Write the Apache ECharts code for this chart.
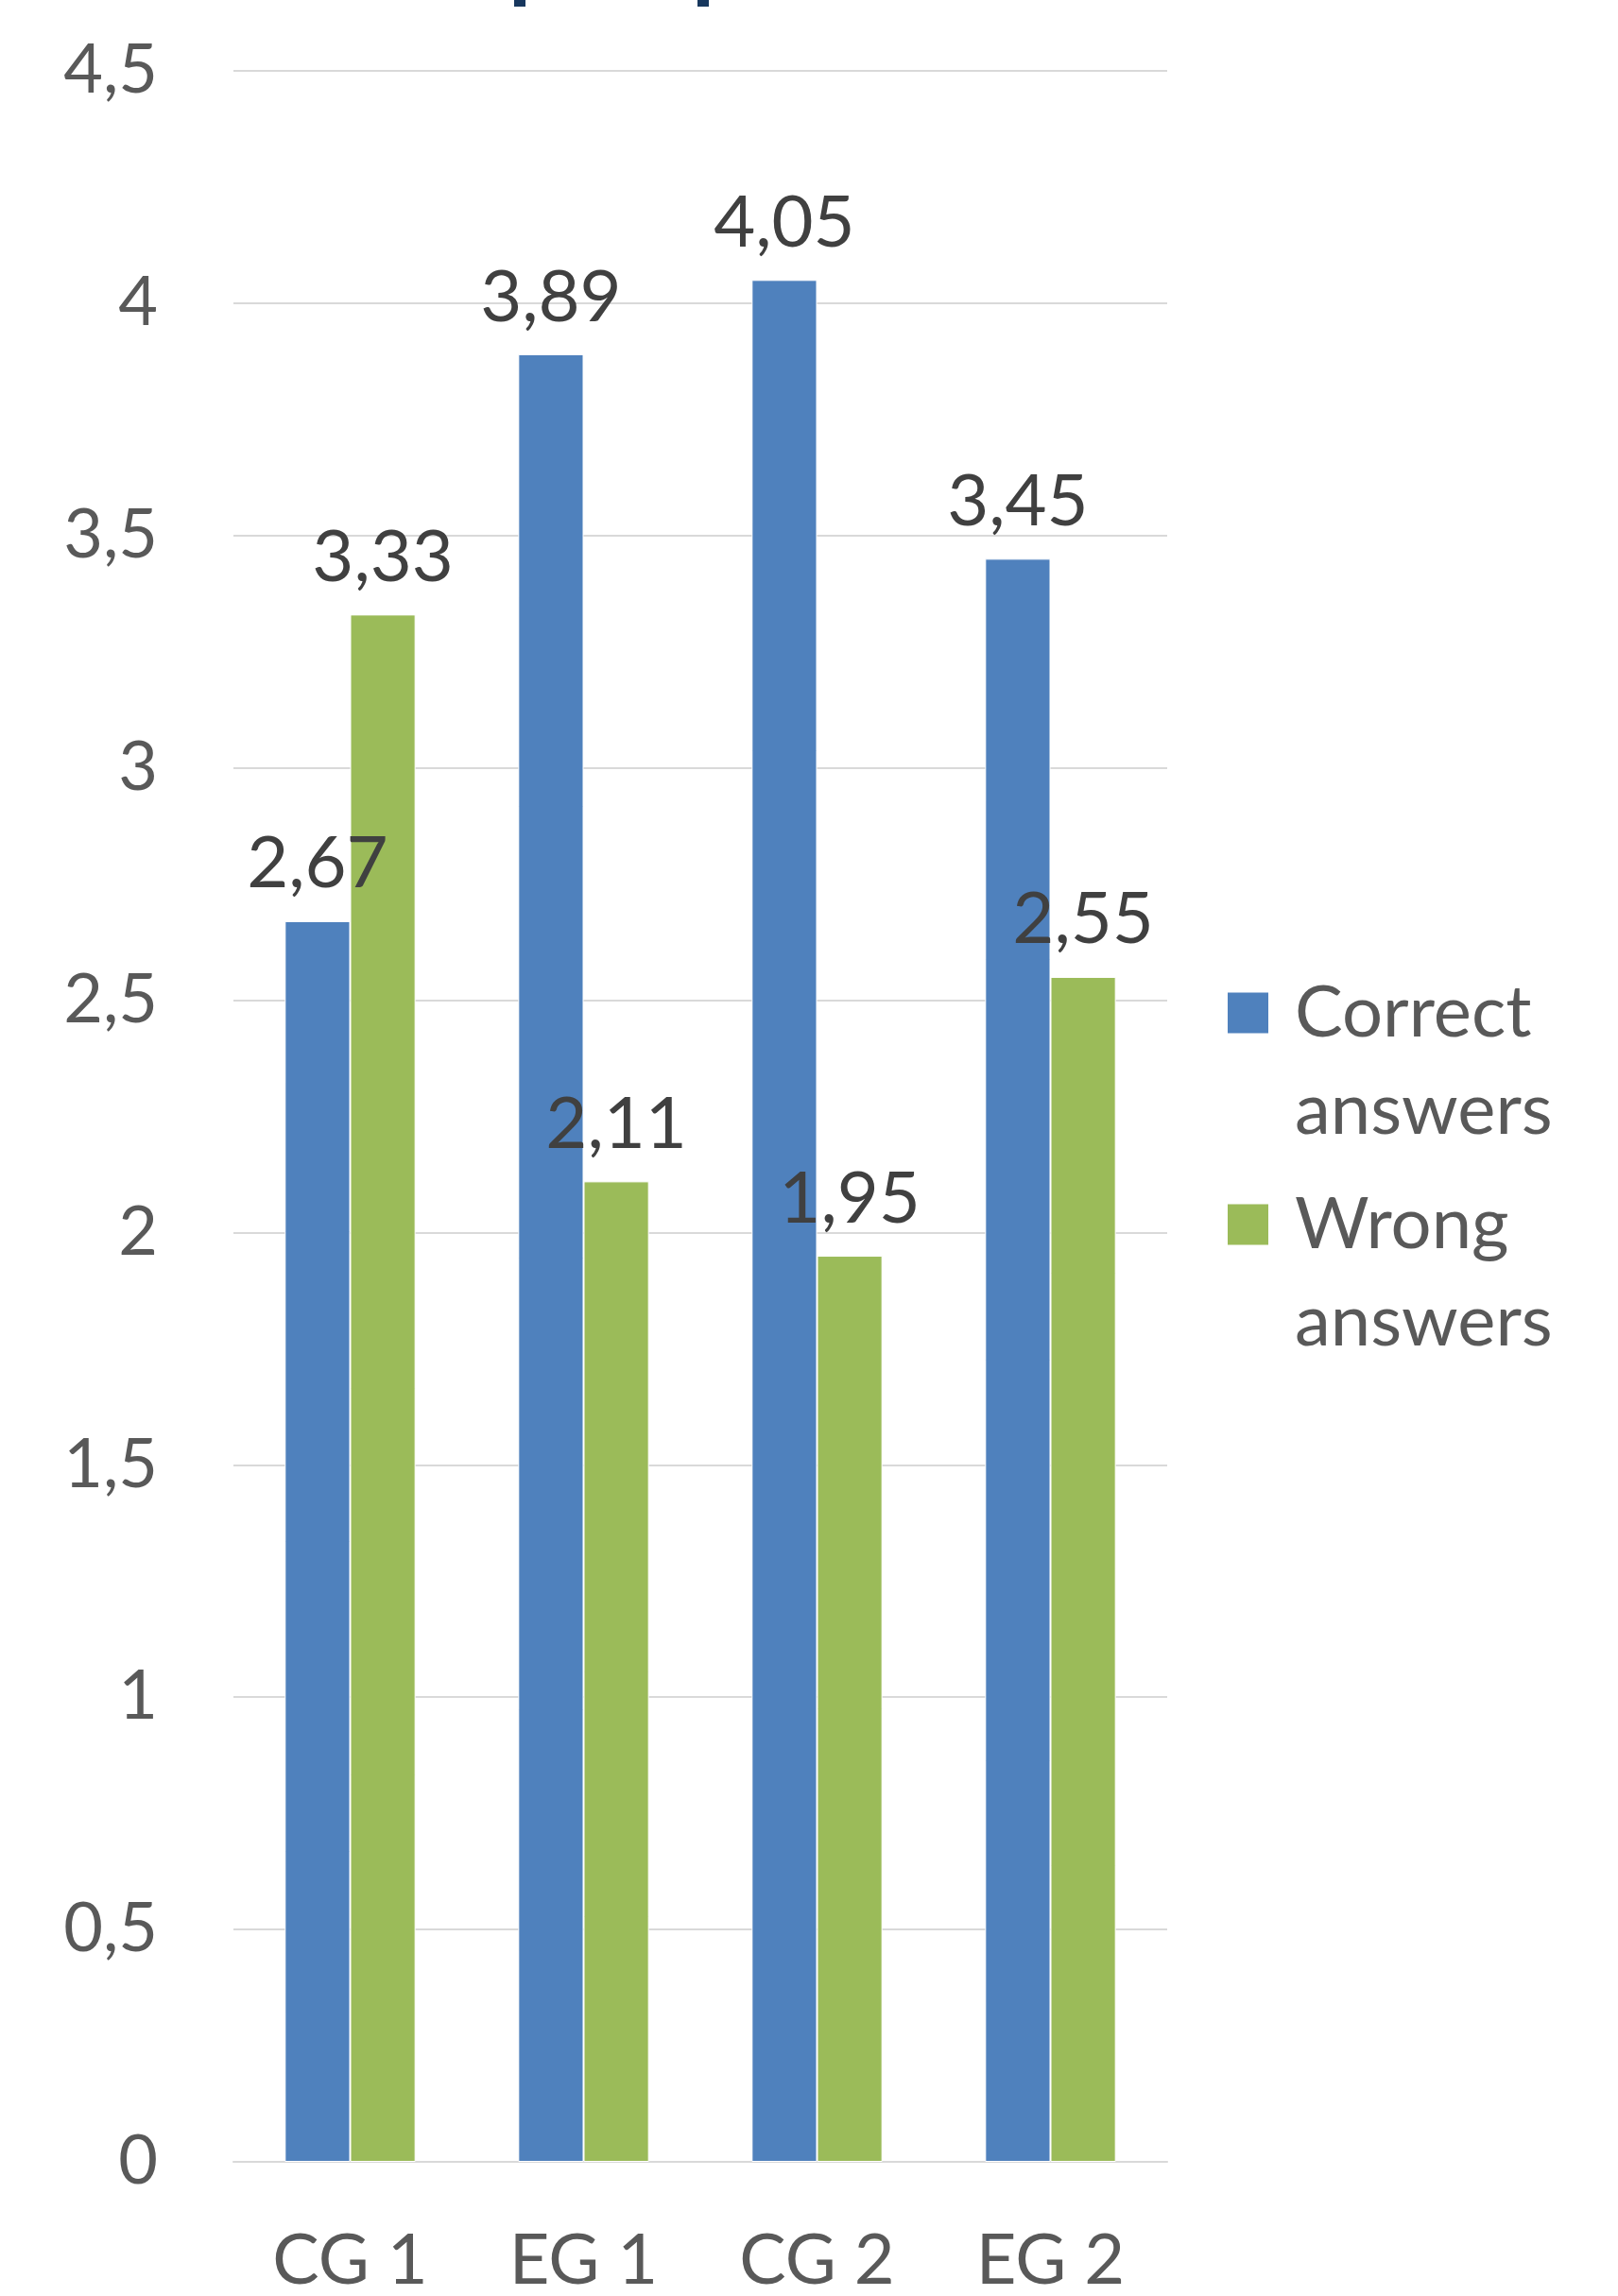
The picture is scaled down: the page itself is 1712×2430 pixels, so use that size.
<!DOCTYPE html>
<html>
<head>
<meta charset="utf-8">
<script src="https://cdn.jsdelivr.net/npm/echarts@6/dist/echarts.min.js"></script>
<style>
  html, body { margin: 0; padding: 0; background: #fff; }
  #chart { width: 1712px; height: 2430px; }
</style>
</head>
<body>
<div id="chart"></div>
<script>
  // categories and series
  var groups = ['CG 1', 'EG 1', 'CG 2', 'EG 2'];
  var correctAnswers = [2.67, 3.89, 4.05, 3.45];
  var wrongAnswers = [3.33, 2.11, 1.95, 2.55];
  var seriesNames = ['Correct answers', 'Wrong answers'];

  var fontName = 'Lato';
  var comma = function (v) { return String(v).replace('.', ','); };

  var myChart = echarts.init(document.getElementById('chart'));

  myChart.setOption({
    animation: false,
    color: ['#4F81BD', '#9BBB59'],
    textStyle: { fontFamily: fontName },
    // bottom of the cut-off title (only the descenders are visible)
    graphic: [
      { type: 'rect', left: 544, top: 0, shape: { width: 12, height: 7 }, style: { fill: '#17375E' } },
      { type: 'rect', left: 738, top: 0, shape: { width: 12, height: 7 }, style: { fill: '#17375E' } }
    ],
    legend: {
      orient: 'vertical',
      left: 1297,
      top: 931,
      padding: 0,
      itemWidth: 45,
      itemHeight: 45,
      itemGap: -58,
      icon: 'rect',
      selectedMode: false,
      // first line of the name sits level with the marker
      formatter: function (name) {
        return '{s| }\n{t|' + name.split(' ')[0] + '}\n{t|' + name.split(' ')[1] + '}';
      },
      textStyle: {
        fontFamily: fontName,
        fontSize: 76,
        color: '#595959',
        padding: [0, 0, 0, 22],
        rich: {
          s: { fontSize: 76, lineHeight: 103, fontFamily: fontName },
          t: { fontSize: 76, lineHeight: 103, color: '#595959', fontFamily: fontName }
        }
      }
    },
    grid: {
      left: 247,
      right: 477,
      top: 75,
      bottom: 140
    },
    xAxis: {
      type: 'category',
      data: groups,
      axisTick: { show: false },
      axisLine: { lineStyle: { color: '#D9D9D9', width: 2 } },
      axisLabel: {
        color: '#595959',
        fontFamily: fontName,
        fontSize: 74,
        margin: 68
      }
    },
    yAxis: {
      type: 'value',
      min: 0,
      max: 4.5,
      interval: 0.5,
      axisLine: { show: false },
      axisTick: { show: false },
      splitLine: { lineStyle: { color: '#D9D9D9', width: 2 } },
      axisLabel: {
        color: '#595959',
        fontFamily: fontName,
        fontSize: 72,
        margin: 80,
        formatter: comma
      }
    },
    series: [
      {
        name: seriesNames[0],
        type: 'bar',
        data: correctAnswers,
        barGap: '0%',
        barCategoryGap: '44%',
        itemStyle: { borderColor: '#ffffff', borderWidth: 1 },
        label: {
          show: true,
          position: 'top',
          distance: 22,
          color: '#404040',
          fontFamily: fontName,
          fontSize: 76,
          formatter: function (p) { return comma(p.value.toFixed(2)); }
        }
      },
      {
        name: seriesNames[1],
        type: 'bar',
        data: wrongAnswers,
        barGap: '0%',
        barCategoryGap: '44%',
        itemStyle: { borderColor: '#ffffff', borderWidth: 1 },
        label: {
          show: true,
          position: 'top',
          distance: 22,
          color: '#404040',
          fontFamily: fontName,
          fontSize: 76,
          formatter: function (p) { return comma(p.value.toFixed(2)); }
        }
      }
    ]
  });

  window.addEventListener('resize', function () {
    myChart.resize();
  });
</script>
</body>
</html>
